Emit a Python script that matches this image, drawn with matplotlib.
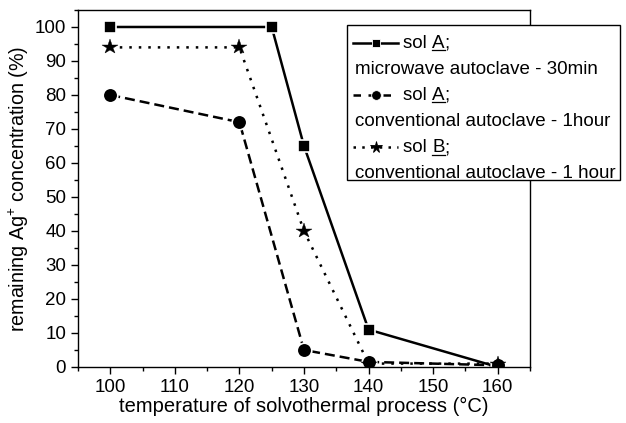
import matplotlib.pyplot as plt
from matplotlib.lines import Line2D
from matplotlib.patches import Rectangle
from matplotlib.ticker import MultipleLocator

plt.rcParams['font.family'] = ['Liberation Sans', 'DejaVu Sans']
plt.rcParams['mathtext.fontset'] = 'custom'
plt.rcParams['mathtext.rm'] = 'Liberation Sans'
plt.rcParams['mathtext.it'] = 'Liberation Sans'

# sol A, microwave autoclave 30 min
temp_a_mw = [100, 125, 130, 140, 160]
conc_a_mw = [100, 100, 65, 11, 0]
# sol A, conventional autoclave 1 h
temp_a_conv = [100, 120, 130, 140, 160]
conc_a_conv = [80, 72, 5, 1.5, 0.5]
# sol B, conventional autoclave 1 h
temp_b_conv = [100, 120, 130, 140, 160]
conc_b_conv = [94, 94, 40, 1, 1]

fig = plt.figure(figsize=(6.26, 4.23), dpi=100)
ax = fig.add_axes([0.1246, 0.1324, 0.722, 0.844])

# white marker edges leave the little gap between line and symbol
ax.plot(temp_a_mw, conc_a_mw, color='black', lw=1.8, ls='-',
        marker='s', ms=9, mec='white', mew=1.2)
ax.plot(temp_a_conv, conc_a_conv, color='black', lw=1.8, ls=(0, (4, 2)),
        marker='o', ms=10.5, mec='white', mew=1.2)
ax.plot(temp_b_conv, conc_b_conv, color='black', lw=1.8, ls=(0, (1, 2.8)),
        marker='*', ms=11.5, mec='black', mew=0.3)

ax.set_xlim(95, 165)
ax.set_ylim(0, 105)
ax.xaxis.set_major_locator(MultipleLocator(10))
ax.xaxis.set_minor_locator(MultipleLocator(5))
ax.yaxis.set_major_locator(MultipleLocator(10))
ax.yaxis.set_minor_locator(MultipleLocator(5))
ax.tick_params(which='both', direction='out', top=False, right=False,
               labelsize=13.5, width=1)
ax.tick_params(which='major', length=5)
ax.tick_params(which='minor', length=3)
for s in ax.spines.values():
    s.set_linewidth(1)

ax.set_xlabel('temperature of solvothermal process (°C)', fontsize=14.5, labelpad=1)
ax.set_ylabel('remaining Ag$^{+}$ concentration (%)', fontsize=14.2, labelpad=3)

# legend box drawn by hand so the description lines start under the handles
W, H = 626, 423
def fx(px):
    return px / W
def fy(py):
    return 1 - py / H

fig.add_artist(Rectangle((fx(347), fy(180)), fx(620) - fx(347), fy(25) - fy(180),
                         transform=fig.transFigure, facecolor='white',
                         edgecolor='black', lw=1, zorder=5))

entries = [
    ('-', 's', 6, 'white', 'A', 'microwave autoclave - 30min'),
    ((0, (3, 3)), 'o', 7, 'white', 'A', 'conventional autoclave - 1hour'),
    ((0, (1, 2.5)), '*', 8.5, 'black', 'B', 'conventional autoclave - 1 hour'),
]
row_y = [43, 95, 147]
fs = 13.5
renderer = fig.canvas.get_renderer()
inv = fig.transFigure.inverted()
for (ls, mk, ms, edge, sol, desc), y in zip(entries, row_y):
    fig.add_artist(Line2D([fx(353), fx(398)], [fy(y), fy(y)], color='black',
                          lw=1.8, ls=ls, transform=fig.transFigure, zorder=6))
    fig.add_artist(Line2D([fx(375.5)], [fy(y)], color='black', marker=mk, ms=ms,
                          mec=edge, mew=0.6, transform=fig.transFigure, zorder=6))
    # "sol X;" with the solution letter underlined
    base = y + 5
    t1 = fig.text(fx(403), fy(base), 'sol ', fontsize=fs, va='baseline', ha='left', zorder=7)
    bb1 = t1.get_window_extent(renderer)
    x_letter = inv.transform((bb1.x1, 0))[0]
    t2 = fig.text(x_letter, fy(base), sol, fontsize=fs, va='baseline', ha='left', zorder=7)
    bb2 = t2.get_window_extent(renderer)
    x_end = inv.transform((bb2.x1, 0))[0]
    fig.text(x_end, fy(base), ';', fontsize=fs, va='baseline', ha='left', zorder=7)
    y_ul = fy(base + 2.5)
    fig.add_artist(Line2D([x_letter, x_end], [y_ul, y_ul], color='black', lw=0.9,
                          transform=fig.transFigure, zorder=7))
    fig.text(fx(355), fy(base + 26), desc, fontsize=fs, va='baseline', ha='left', zorder=7)

fig.savefig('out.png', dpi=100)
